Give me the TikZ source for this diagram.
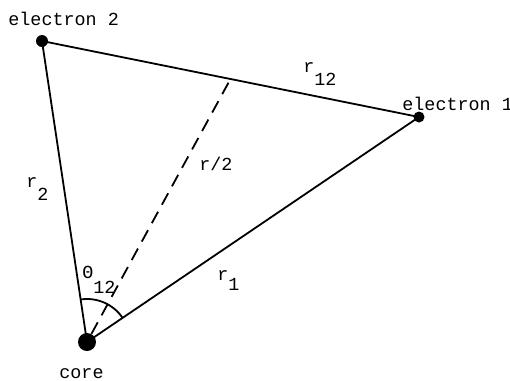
\documentclass[tikz,border=0pt]{standalone}
\usepackage{fontspec}
\setmonofont{Liberation Mono}
\usetikzlibrary{calc}
\begin{document}
\begin{tikzpicture}[x=0.5pt,y=-0.5pt,
  dot/.style={circle,fill=black,inner sep=0pt,minimum size=#1},
  lbl/.style={anchor=base west,inner sep=0pt,font=\fontsize{9.2}{11}\ttfamily},
  edge/.style={line width=0.9pt},
  half/.style={line width=0.9pt,dash pattern=on 6.5pt off 4pt}]
\useasboundingbox (0,0) rectangle (510,381);
\node[dot=6pt] (e2) at (42,41) {};
\node[dot=5.5pt] (e1) at (419,117) {};
\node[dot=9pt] (core) at (87,342) {};
\coordinate (mid) at ($(e1)!0.5!(e2)$);
\draw[edge] (e2.center) -- (e1.center);
\draw[edge] (core.center) -- (e2.center);
\draw[edge] (core.center) -- (e1.center);
\draw[half] (core) -- (mid);
\draw[edge] ([shift={(34.2:21.5pt)}]core.center) arc[start angle=34.2,end angle=98.5,radius=21.5pt];
\node[lbl] (le2) at (8,25) {electron 2};
\node[lbl] (le1) at (402,110) {electron 1};
\node[lbl] (lcore) at (59,378) {core};
\node[lbl] (lr12) at (303,72) {r\raisebox{-6.5pt}{12}};
\node[lbl] (lr2) at (26,187) {r\raisebox{-6.5pt}{2}};
\node[lbl] (lr1) at (217,280) {r\raisebox{-5pt}{1}};
\node[lbl] (lth) at (82,278) {Θ\raisebox{-7.5pt}{12}};
\node[lbl] (lrh) at (199,170) {r/2};
\end{tikzpicture}
\end{document}
